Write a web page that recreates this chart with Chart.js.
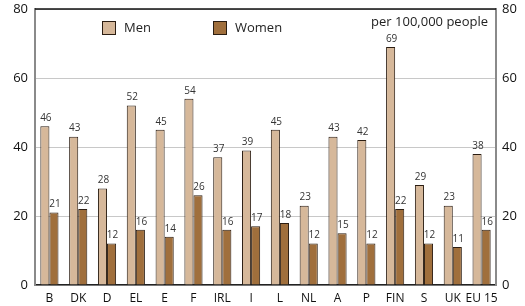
<!DOCTYPE html>
<html>
<head>
<meta charset="utf-8">
<script src="https://cdn.jsdelivr.net/npm/chart.js@4"></script>
<style>
  html, body { margin: 0; padding: 0; background: #fff; }
  #wrap { width: 525px; height: 306px; }
</style>
</head>
<body>
<div id="wrap"><canvas id="barChart" width="525" height="306"></canvas></div>
<script>
// Countries along the x axis
var countries = ['B', 'DK', 'D', 'EL', 'E', 'F', 'IRL', 'I', 'L', 'NL', 'A', 'P', 'FIN', 'S', 'UK', 'EU 15'];
// Rates per 100,000 people
var men = [46, 43, 28, 52, 45, 54, 37, 39, 45, 23, 43, 42, 69, 29, 23, 38];
var women = [21, 22, 12, 16, 14, 26, 16, 17, 18, 12, 15, 12, 22, 12, 11, 16];
var yTicks = [0, 20, 40, 60, 80];

var menColor = '#d6b89a';
var womenColor = '#a06f3c';
var edgeColor = '#2b1d12';
var fontName = "'Open Sans', sans-serif";

// values above the bars, legend inside the plot, top frame line
var extras = {
    id: 'extras',
    afterDatasetsDraw: function (chart) {
        var c = chart.ctx;
        var area = chart.chartArea;
        c.save();
        c.font = '10px ' + fontName;
        c.fillStyle = '#333';
        c.textAlign = 'center';
        c.textBaseline = 'bottom';
        chart.data.datasets.forEach(function (ds, i) {
            chart.getDatasetMeta(i).data.forEach(function (bar, j) {
                c.fillText(ds.data[j], bar.x + 1, bar.y - 3);
            });
        });

        // top frame
        c.strokeStyle = '#111';
        c.lineWidth = 1.5;
        c.beginPath();
        c.moveTo(area.left, area.top);
        c.lineTo(area.right, area.top);
        c.stroke();

        // legend
        c.font = '13px ' + fontName;
        c.textAlign = 'left';
        c.textBaseline = 'middle';
        var items = [[102, 'Men', menColor], [213, 'Women', womenColor]];
        items.forEach(function (it) {
            c.fillStyle = it[2];
            c.fillRect(it[0], 21, 13, 13);
            c.strokeStyle = edgeColor;
            c.lineWidth = 1;
            c.strokeRect(it[0] + 0.5, 21.5, 13, 13);
            c.fillStyle = '#222';
            c.fillText(it[1], it[0] + 22, 28);
        });
        c.textAlign = 'right';
        c.fillText('per 100,000 people', area.right - 8, 22);
        c.restore();
    }
};

function fixedTicks(s) {
    s.ticks = yTicks.map(function (v) { return { value: v }; });
}

var ctx = document.getElementById('barChart').getContext('2d');
var chart = new Chart(ctx, {
    type: 'bar',
    data: {
        labels: countries,
        datasets: [{
            label: 'Men',
            data: men,
            backgroundColor: menColor,
            borderColor: edgeColor,
            borderWidth: 1,
            barPercentage: 1,
            categoryPercentage: 0.63
        }, {
            label: 'Women',
            data: women,
            backgroundColor: womenColor,
            borderColor: edgeColor,
            borderWidth: 1,
            barPercentage: 1,
            categoryPercentage: 0.63
        }]
    },
    options: {
        responsive: false,
        animation: false,
        layout: { padding: { top: 9, left: 0, right: 0, bottom: 0 } },
        plugins: {
            legend: { display: false },
            tooltip: { enabled: false }
        },
        scales: {
            x: {
                grid: { display: false, drawTicks: false },
                border: { color: '#222', width: 1.5 },
                ticks: { color: '#111', font: { family: fontName, size: 12 }, padding: 6, autoSkip: false, maxRotation: 0 },
                afterFit: function (s) { s.height = 21; s.paddingLeft = 0; s.paddingRight = 0; }
            },
            y: {
                position: 'left',
                min: 0, max: 80,
                afterBuildTicks: fixedTicks,
                grid: { color: '#c8c8c8', drawTicks: false },
                border: { color: '#8a8a8a', width: 2 },
                ticks: { color: '#111', font: { family: fontName, size: 13 }, padding: 7 },
                afterFit: function (s) { s.width = 35; s.paddingTop = 0; s.paddingBottom = 0; }
            },
            y2: {
                position: 'right',
                min: 0, max: 80,
                afterBuildTicks: fixedTicks,
                grid: { display: false, drawTicks: false },
                border: { color: '#8a8a8a', width: 2 },
                ticks: { color: '#111', font: { family: fontName, size: 13 }, padding: 6 },
                afterFit: function (s) { s.width = 29; s.paddingTop = 0; s.paddingBottom = 0; }
            }
        }
    },
    plugins: [extras]
});
</script>
</body>
</html>
